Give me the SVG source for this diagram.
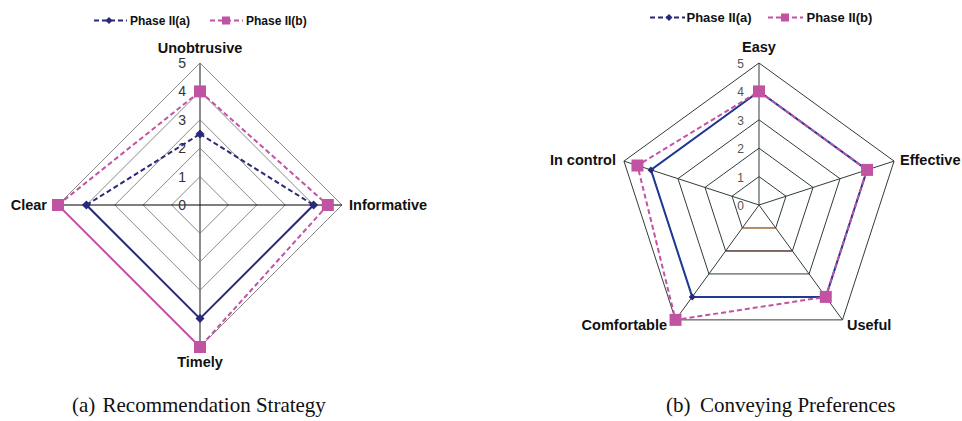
<svg xmlns="http://www.w3.org/2000/svg" width="962" height="421" viewBox="0 0 962 421">
  <style>
    .lbl { font-family: "Liberation Sans", Arial, sans-serif; font-weight: bold; font-size: 14.5px; fill: #111; }
    .leg { font-family: "Liberation Sans", Arial, sans-serif; font-weight: bold; fill: #111; }
    .numL { font-family: "Liberation Sans", Arial, sans-serif; font-size: 14px; fill: #333; text-anchor: end; }
    .numR { font-family: "Liberation Sans", Arial, sans-serif; font-size: 12px; fill: #555; text-anchor: end; }
    .cap { font-family: "Liberation Serif", "Times New Roman", serif; font-size: 21px; fill: #111; }
    .ringL { fill: none; stroke: #8a8a8a; stroke-width: 1; }
    .ringR { fill: none; stroke: #2f3c3c; stroke-width: 1; }
    .navy { fill: none; stroke: #27297a; stroke-width: 2; stroke-dasharray: 5 3; }
    .navyS { fill: none; stroke: #27297a; stroke-width: 2; }
    .pink { fill: none; stroke: #c253a3; stroke-width: 2; stroke-dasharray: 5 3; }
    .pinkS { fill: none; stroke: #c253a3; stroke-width: 2; }
    .navyR { fill: none; stroke: #1f3a94; stroke-width: 2; }
    .dia { fill: #27297a; }
    .sq { fill: #c253a3; }
  </style>
  <defs>
    <path id="diamond" d="M0,-4.5 L4.5,0 L0,4.5 L-4.5,0 Z"/>
    <path id="diamondS" d="M0,-3.5 L3.5,0 L0,3.5 L-3.5,0 Z"/>
    <rect id="square" x="-6" y="-6" width="12" height="12"/>
    <rect id="squareS" x="-4" y="-4" width="8" height="8"/>
  </defs>
  <rect width="962" height="421" fill="#fff"/>

  <!-- ===== Chart (a): recommendation strategy ===== -->
  <g id="chartA">
    <g id="legendA">
      <line x1="94" y1="20.5" x2="127" y2="20.5" class="navy" stroke-dasharray="4 2.5"/>
      <use href="#diamondS" x="109" y="20.5" class="dia"/>
      <text x="130" y="25" class="leg" font-size="12">Phase II(a)</text>
      <line x1="210" y1="20.5" x2="243" y2="20.5" class="pink" stroke-dasharray="4 2.5"/>
      <use href="#squareS" x="226" y="20.5" class="sq"/>
      <text x="246" y="25" class="leg" font-size="12">Phase II(b)</text>
    </g>
    <g id="gridA">
      <polygon class="ringL" points="200,176.6 228.4,205 200,233.4 171.6,205"/>
      <polygon class="ringL" points="200,148.2 256.8,205 200,261.8 143.2,205"/>
      <polygon class="ringL" points="200,119.8 285.2,205 200,290.2 114.8,205"/>
      <polygon class="ringL" points="200,91.4 313.6,205 200,318.6 86.4,205"/>
      <polygon class="ringL" points="200,63 342,205 200,347 58,205"/>
      <line x1="200" y1="63" x2="200" y2="347" stroke="#707070" stroke-width="1.6"/>
      <line x1="58" y1="205" x2="342" y2="205" stroke="#000" stroke-width="1.2"/>
    </g>
    <g id="scaleA">
      <text class="numL" x="186" y="210">0</text>
      <text class="numL" x="186" y="181.6">1</text>
      <text class="numL" x="186" y="153.2">2</text>
      <text class="numL" x="186" y="124.8">3</text>
      <text class="numL" x="186" y="96.4">4</text>
      <text class="numL" x="186" y="68">5</text>
    </g>
    <g id="connectorsA">
      <!-- Phase II(a) -->
      <line class="navy" x1="86.4" y1="205" x2="200" y2="134"/>
      <line class="navy" x1="200" y1="134" x2="313.6" y2="205"/>
      <line class="navyS" x1="313.6" y1="205" x2="200" y2="318.6"/>
      <line class="navyS" x1="200" y1="318.6" x2="86.4" y2="205"/>
      <!-- Phase II(b) -->
      <line class="pink" x1="58" y1="205" x2="200" y2="91.4"/>
      <line class="pink" x1="200" y1="91.4" x2="327.8" y2="205"/>
      <line class="pink" x1="327.8" y1="205" x2="200" y2="347"/>
      <line class="pinkS" x1="200" y1="347" x2="58" y2="205"/>
    </g>
    <g id="markersA">
      <use href="#diamond" x="200" y="134" class="dia"/>
      <use href="#diamond" x="313.6" y="205" class="dia"/>
      <use href="#diamond" x="200" y="318.6" class="dia"/>
      <use href="#diamond" x="86.4" y="205" class="dia"/>
      <use href="#square" x="200" y="91.4" class="sq"/>
      <use href="#square" x="327.8" y="205" class="sq"/>
      <use href="#square" x="200" y="347" class="sq"/>
      <use href="#square" x="58" y="205" class="sq"/>
    </g>
    <g id="node-unobtrusive"><text class="lbl" x="200" y="53" text-anchor="middle">Unobtrusive</text></g>
    <g id="node-informative"><text class="lbl" x="349" y="210">Informative</text></g>
    <g id="node-timely"><text class="lbl" x="200" y="367" text-anchor="middle">Timely</text></g>
    <g id="node-clear"><text class="lbl" x="47" y="210" text-anchor="end">Clear</text></g>
    <text class="cap" x="72" y="412">(a)</text>
    <text class="cap" x="102.5" y="412">Recommendation Strategy</text>
  </g>

  <!-- ===== Chart (b): conveying preferences ===== -->
  <g id="chartB">
    <g id="legendB">
      <line x1="650" y1="17.5" x2="685" y2="17.5" class="navy" stroke-dasharray="4 2.5"/>
      <use href="#diamondS" x="669" y="17.5" class="dia"/>
      <text x="686.5" y="22" class="leg" font-size="13">Phase II(a)</text>
      <line x1="768" y1="17.5" x2="803" y2="17.5" class="pink" stroke-dasharray="4 2.5"/>
      <use href="#squareS" x="785" y="17.5" class="sq"/>
      <text x="806.5" y="22" class="leg" font-size="13">Phase II(b)</text>
    </g>
    <g id="gridB">
      <polygon class="ringR" points="759,176.6 786.01,196.22 775.69,227.98 742.31,227.98 731.99,196.22"/>
      <polygon class="ringR" points="759,148.2 813.02,187.45 792.39,250.95 725.61,250.95 704.98,187.45"/>
      <polygon class="ringR" points="759,119.8 840.03,178.67 809.08,273.93 708.92,273.93 677.97,178.67"/>
      <polygon class="ringR" points="759,91.4 867.04,169.9 825.77,296.9 692.23,296.9 650.96,169.9"/>
      <polygon class="ringR" points="759,63 894.06,161.12 842.47,319.88 675.53,319.88 623.94,161.12"/>
      <line x1="742.31" y1="227.98" x2="775.69" y2="227.98" stroke="#d0803c" stroke-width="1.1"/>
      <line x1="725.61" y1="250.95" x2="792.39" y2="250.95" stroke="#6a3a28" stroke-width="1.1"/>
      <line class="ringR" x1="759" y1="205" x2="759" y2="63"/>
      <line class="ringR" x1="759" y1="205" x2="894.06" y2="161.12"/>
      <line class="ringR" x1="759" y1="205" x2="842.47" y2="319.88"/>
      <line class="ringR" x1="759" y1="205" x2="675.53" y2="319.88"/>
      <line class="ringR" x1="759" y1="205" x2="623.94" y2="161.12"/>
    </g>
    <g id="scaleB">
      <text class="numR" x="744" y="210">0</text>
      <text class="numR" x="744" y="181.5">1</text>
      <text class="numR" x="744" y="153">2</text>
      <text class="numR" x="744" y="124.5">3</text>
      <text class="numR" x="744" y="96">4</text>
      <text class="numR" x="744" y="67.5">5</text>
    </g>
    <g id="connectorsB">
      <polygon class="navyR" points="759,91.4 867.04,169.9 825.77,296.9 692.23,296.9 650.96,169.9"/>
      <polygon class="pink" points="759,91.4 867.04,169.9 825.77,296.9 675.53,319.88 637.45,165.51"/>
    </g>
    <g id="markersB">
      <use href="#diamondS" x="759" y="91.4" class="dia"/>
      <use href="#diamondS" x="867.04" y="169.9" class="dia"/>
      <use href="#diamondS" x="825.77" y="296.9" class="dia"/>
      <use href="#diamondS" x="692.23" y="296.9" class="dia"/>
      <use href="#diamondS" x="650.96" y="169.9" class="dia"/>
      <use href="#square" x="759" y="91.4" class="sq"/>
      <use href="#square" x="867.04" y="169.9" class="sq"/>
      <use href="#square" x="825.77" y="296.9" class="sq"/>
      <use href="#square" x="675.53" y="319.88" class="sq"/>
      <use href="#square" x="637.45" y="165.51" class="sq"/>
    </g>
    <g id="node-easy"><text class="lbl" x="759" y="52" text-anchor="middle">Easy</text></g>
    <g id="node-effective"><text class="lbl" x="900" y="165">Effective</text></g>
    <g id="node-useful"><text class="lbl" x="847" y="330">Useful</text></g>
    <g id="node-comfortable"><text class="lbl" x="667" y="330" text-anchor="end">Comfortable</text></g>
    <g id="node-in-control"><text class="lbl" x="616" y="165" text-anchor="end">In control</text></g>
    <text class="cap" x="666" y="412">(b)</text>
    <text class="cap" x="700" y="412">Conveying Preferences</text>
  </g>
</svg>
